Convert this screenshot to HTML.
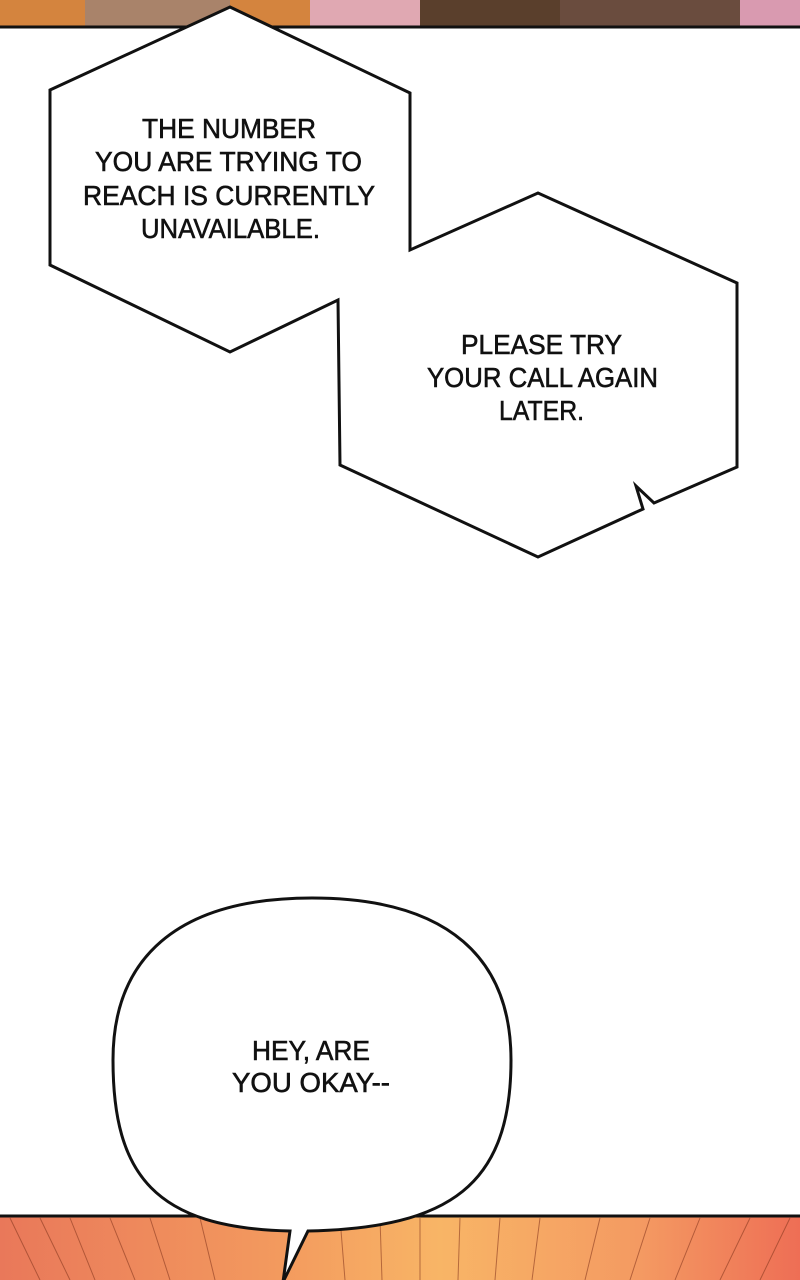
<!DOCTYPE html>
<html><head><meta charset="utf-8"><style>
html,body{margin:0;padding:0;background:#fff;width:800px;height:1280px;overflow:hidden}
svg{display:block}
text{font-family:"Liberation Sans",sans-serif;font-size:28px;fill:#111;stroke:#111;stroke-width:0.6}
</style></head><body>
<svg width="800" height="1280" viewBox="0 0 800 1280" xmlns="http://www.w3.org/2000/svg">
<defs>
<linearGradient id="bg" x1="0" x2="1" y1="0" y2="0">
<stop offset="0" stop-color="#e9785a"/><stop offset="0.35" stop-color="#f39a5e"/>
<stop offset="0.55" stop-color="#f8b566"/><stop offset="0.8" stop-color="#f49a62"/><stop offset="1" stop-color="#ee6e55"/>
</linearGradient>
</defs>
<rect x="0" y="0" width="800" height="27" fill="#d4843e"/>
<rect x="85" y="0" width="145" height="27" fill="#a9836a"/>
<rect x="310" y="0" width="110" height="27" fill="#e0a8b2"/>
<rect x="420" y="0" width="140" height="27" fill="#5a3f2c"/>
<rect x="560" y="0" width="180" height="27" fill="#6a4c3e"/>
<rect x="740" y="0" width="60" height="27" fill="#d99ab0"/>
<line x1="0" y1="27" x2="800" y2="27" stroke="#111" stroke-width="3"/>
<rect x="0" y="1216" width="800" height="64" fill="url(#bg)"/>
<g stroke="#8a3a20" stroke-width="1" opacity="0.6">
<line x1="10" y1="1218" x2="40" y2="1280"/><line x1="40" y1="1218" x2="70" y2="1280"/><line x1="70" y1="1218" x2="95" y2="1280"/>
<line x1="110" y1="1218" x2="135" y2="1280"/><line x1="150" y1="1218" x2="170" y2="1280"/><line x1="200" y1="1218" x2="215" y2="1280"/>
<line x1="340" y1="1218" x2="345" y2="1280"/><line x1="380" y1="1218" x2="382" y2="1280"/><line x1="420" y1="1218" x2="420" y2="1280"/>
<line x1="460" y1="1218" x2="458" y2="1280"/><line x1="500" y1="1218" x2="495" y2="1280"/><line x1="540" y1="1218" x2="532" y2="1280"/>
<line x1="600" y1="1218" x2="585" y2="1280"/><line x1="650" y1="1218" x2="630" y2="1280"/><line x1="700" y1="1218" x2="675" y2="1280"/><line x1="750" y1="1218" x2="720" y2="1280"/><line x1="790" y1="1218" x2="760" y2="1280"/>
</g>
<line x1="0" y1="1216" x2="800" y2="1216" stroke="#111" stroke-width="3"/>
<path d="M230,7 L410,93 L410,250 L538,193 L737,283 L737,467 L654,503 L636,486 L643,509 L538,557 L340,465 L338,300 L230,352 L50,265 L50,90 Z" fill="#fff" stroke="#111" stroke-width="3" stroke-linejoin="miter"/>
<text x="142" y="138" textLength="174" lengthAdjust="spacingAndGlyphs">THE NUMBER</text>
<text x="95" y="171" textLength="267" lengthAdjust="spacingAndGlyphs">YOU ARE TRYING TO</text>
<text x="83" y="205" textLength="292" lengthAdjust="spacingAndGlyphs">REACH IS CURRENTLY</text>
<text x="141" y="238" textLength="179" lengthAdjust="spacingAndGlyphs">UNAVAILABLE.</text>
<text x="461" y="354" textLength="161" lengthAdjust="spacingAndGlyphs">PLEASE TRY</text>
<text x="427" y="387" textLength="231" lengthAdjust="spacingAndGlyphs">YOUR CALL AGAIN</text>
<text x="499" y="420" textLength="85" lengthAdjust="spacingAndGlyphs">LATER.</text>
<path d="M312,898 C450,898 511,960 511,1060 C511,1185 450,1228 308,1231 L283,1282 L290,1231 C155,1228 113,1175 113,1060 C113,960 175,898 312,898 Z" fill="#fff" stroke="#111" stroke-width="3"/>
<text x="252" y="1060" textLength="118" lengthAdjust="spacingAndGlyphs">HEY, ARE</text>
<text x="232" y="1092" textLength="158" lengthAdjust="spacingAndGlyphs">YOU OKAY--</text>
</svg>
</body></html>
